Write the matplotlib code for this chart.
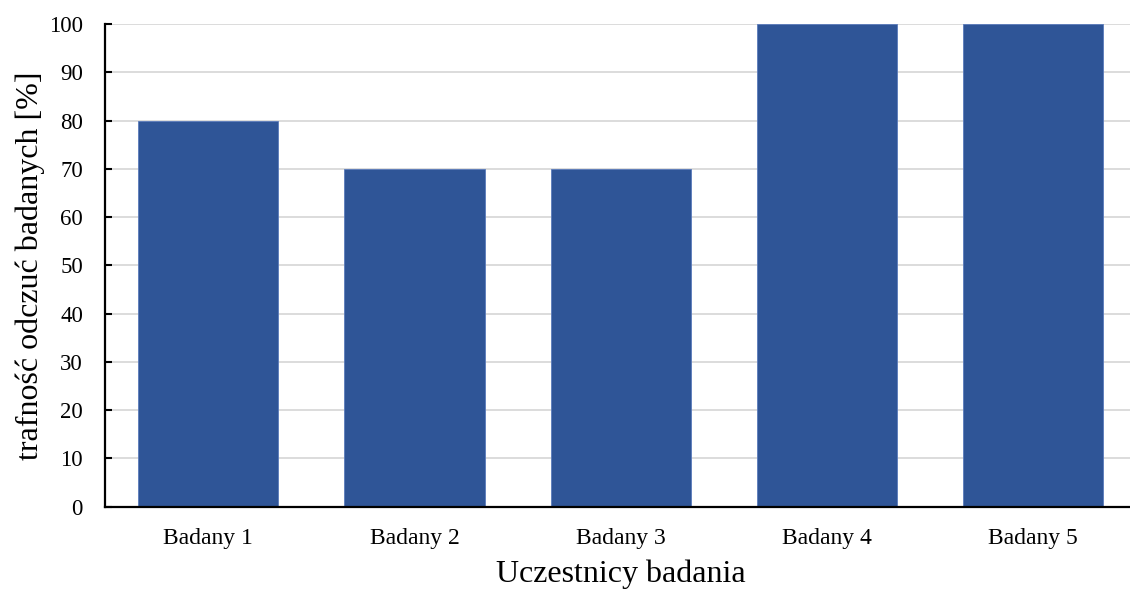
import matplotlib
matplotlib.use("Agg")
import matplotlib.pyplot as plt

categories = ["Badany 1", "Badany 2", "Badany 3", "Badany 4", "Badany 5"]
values = [80, 70, 70, 100, 100]
yticks = [0, 10, 20, 30, 40, 50, 60, 70, 80, 90, 100]

plt.rcParams["font.family"] = ["Liberation Serif", "DejaVu Serif"]

W, H = 1130, 590
fig = plt.figure(figsize=(W / 100, H / 100), dpi=100)
ax = fig.add_axes([105.2 / W, (H - 506.7) / H, 1031 / W, (506.7 - 24) / H])

x = list(range(len(categories)))
ax.bar(x, values, width=0.68, color="#2F5597", edgecolor="#5a7bbb",
       linewidth=0.6, zorder=3)

ax.set_xlim(-0.5, len(categories) - 0.5)
ax.set_ylim(0, 100)
ax.set_yticks(yticks)
ax.set_xticks(x)
ax.set_xticklabels(categories, fontsize=17)
ax.tick_params(axis="y", direction="in", length=5, width=1.5, labelsize=16.5, pad=16)
ax.tick_params(axis="x", length=0, pad=15)

ax.grid(axis="y", color="#D9D9D9", linewidth=1.3, zorder=0)
ax.set_axisbelow(True)

for side in ("top", "right"):
    ax.spines[side].set_visible(False)
for side in ("left", "bottom"):
    ax.spines[side].set_linewidth(1.6)
    ax.spines[side].set_color("black")
    ax.spines[side].set_zorder(4)

ax.set_ylabel("trafność odczuć badanych [%]", fontsize=23, labelpad=3)
ax.set_xlabel("Uczestnicy badania", fontsize=23, labelpad=8)

fig.savefig("out.png", dpi=100)
